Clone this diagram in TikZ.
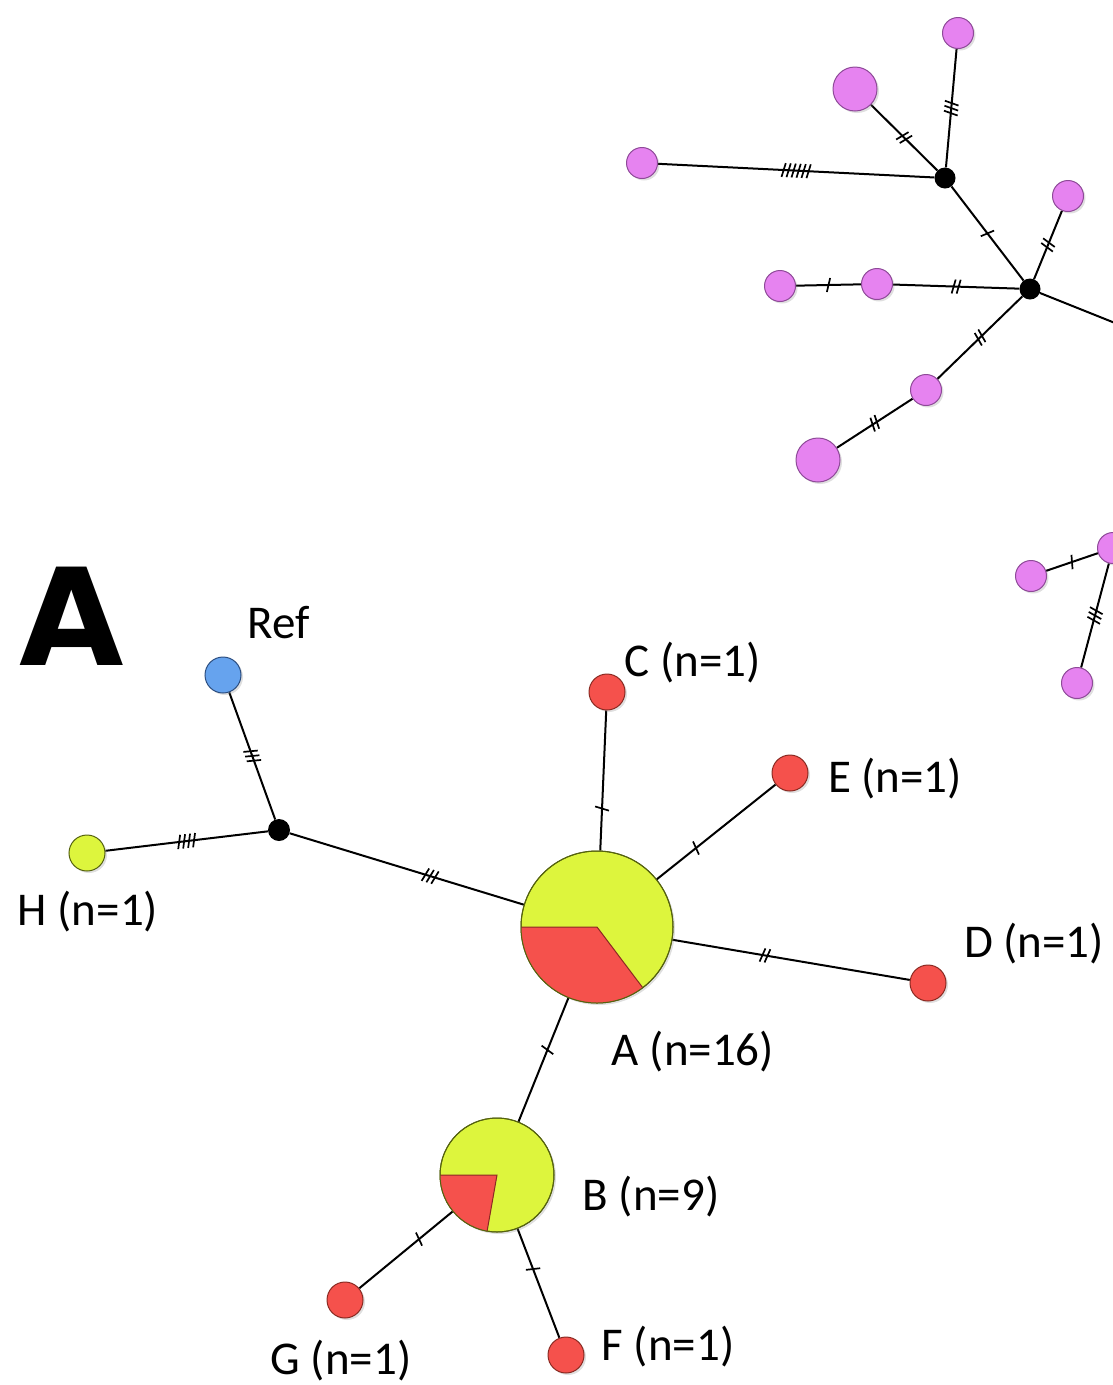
\documentclass[tikz,border=0pt]{standalone}
\usepackage{fontspec}
\setmainfont{Carlito}
\newfontfamily\bigfont{DejaVu Sans}
\usetikzlibrary{decorations.markings,shadows,calc}
\definecolor{pinkv}{HTML}{E683F0}
\definecolor{pinkb}{HTML}{8E4A98}
\definecolor{redn}{HTML}{F5514C}
\definecolor{redb}{HTML}{8A2A22}
\definecolor{ygrn}{HTML}{DDF53D}
\definecolor{ygb}{HTML}{55620F}
\definecolor{bluen}{HTML}{66A3EE}
\definecolor{blueb}{HTML}{2C4E80}
\pgfdeclarelayer{bg}
\pgfsetlayers{bg,main}
\tikzset{
 hap/.style={circle, inner sep=0pt, line width=1pt, drop shadow={shadow xshift=2pt, shadow yshift=-2pt, opacity=0.25}},
 pk/.style={hap, fill=pinkv, draw=pinkb, minimum size=31pt},
 pkbig/.style={hap, fill=pinkv, draw=pinkb, minimum size=44pt},
 rd/.style={hap, fill=redn, draw=redb, minimum size=36pt},
 jn/.style={circle, inner sep=0pt, fill=black, minimum size=21pt},
 edge/.style={line width=2pt, black},
 lbl/.style={font=\fontsize{47}{56}\selectfont, inner sep=0pt},
 ticks/.style 2 args={postaction={decorate, decoration={markings, mark=at position #2 with {\foreach \k in {1,...,#1}{\draw[line width=1.7pt] ({(\k-(#1+1)/2)*5pt-1.8pt},-7pt) -- ({(\k-(#1+1)/2)*5pt+1.8pt},7pt);}}}}},
}
\begin{document}
\begin{tikzpicture}[x=1pt,y=-1pt]
\useasboundingbox (0,0) rectangle (1112,1385);
% ---------- top cluster ----------
\node[pk] (P1) at (958,33) {};
\node[pkbig] (P2) at (855,89) {};
\node[pk] (P3) at (642,163) {};
\node[jn] (J1) at (945,178) {};
\node[pk] (P4) at (1068,196) {};
\node[jn] (J2) at (1030,289) {};
\node[pk] (P5) at (780,286) {};
\node[pk] (P6) at (877,284) {};
\node[pk] (P7) at (926,390) {};
\node[pkbig] (P8) at (818,460) {};
\coordinate (Xout) at (1125,327);
% ---------- middle right ----------
\node[pk] (P9) at (1031,576) {};
\node[pk] (P10) at (1113,548) {};
\node[pk] (P11) at (1077,683) {};
% ---------- main network ----------
\node[hap, fill=bluen, draw=blueb, minimum size=36pt] (Ref) at (223,675) {};
\node[jn, minimum size=22pt] (J3) at (279,830) {};
\node[hap, fill=ygrn, draw=ygb, minimum size=36pt] (H) at (87,853) {};
\node[hap, fill=ygrn, draw=ygb, minimum size=152pt] (A) at (597,927) {};
\fill[redn] (A.center) -- ++(180:76pt) arc[start angle=180, end angle=307, radius=76pt] -- cycle;
\draw[redb, line width=1pt] ($(A.center)+(180:76pt)$) -- (A.center) -- ($(A.center)+(307:76pt)$);
\draw[ygb, line width=1pt] (A.center) circle[radius=76pt];
\node[hap, fill=ygrn, draw=ygb, minimum size=114pt] (B) at (497,1175) {};
\fill[redn] (B.center) -- ++(180:57pt) arc[start angle=180, end angle=260, radius=57pt] -- cycle;
\draw[redb, line width=1pt] ($(B.center)+(180:57pt)$) -- (B.center) -- ($(B.center)+(260:57pt)$);
\draw[ygb, line width=1pt] (B.center) circle[radius=57pt];
\node[rd] (C) at (607,692) {};
\node[rd] (E) at (790,773) {};
\node[rd] (D) at (928,983) {};
\node[rd] (G) at (345,1300) {};
\node[rd] (F) at (566,1355) {};
% ---------- edges ----------
\begin{pgfonlayer}{bg}
\draw[edge, ticks={6}{0.5}] (P3) -- (J1);
\draw[edge, ticks={2}{0.5}] (P2) -- (J1);
\draw[edge, ticks={3}{0.5}] (P1) -- (J1);
\draw[edge, ticks={1}{0.5}] (J1) -- (J2);
\draw[edge, ticks={2}{0.5}] (J2) -- (P4);
\draw[edge, ticks={2}{0.5}] (J2) -- (P6);
\draw[edge, ticks={1}{0.5}] (P6) -- (P5);
\draw[edge, ticks={2}{0.5}] (J2) -- (P7);
\draw[edge, ticks={2}{0.5}] (P7) -- (P8);
\draw[edge] (J2) -- (Xout);
\draw[edge, ticks={1}{0.5}] (P9) -- (P10);
\draw[edge, ticks={3}{0.5}] (P10) -- (P11);
\draw[edge, ticks={3}{0.5}] (Ref) -- (J3);
\draw[edge, ticks={4}{0.5}] (H) -- (J3);
\draw[edge, ticks={3}{0.6}] (J3) -- (A);
\draw[edge, ticks={1}{0.7}] (C) -- (A);
\draw[edge, ticks={1}{0.67}] (E) -- (A);
\draw[edge, ticks={2}{0.39}] (A) -- (D);
\draw[edge, ticks={1}{0.42}] (A) -- (B);
\draw[edge, ticks={1}{0.36}] (B) -- (G);
\draw[edge, ticks={1}{0.37}] (B) -- (F);
\end{pgfonlayer}
% ---------- labels ----------
\node[font=\bigfont\bfseries\fontsize{135}{140}\selectfont, inner sep=0pt] (bigA) at (72,616) {A};
\node[lbl] (lRef) at (279,623) {Ref};
\node[lbl] (lC) at (693,663) {C (n=1)};
\node[lbl] (lE) at (895,779) {E (n=1)};
\node[lbl] (lD) at (1034,944) {D (n=1)};
\node[lbl] (lH) at (88,912) {H (n=1)};
\node[lbl] (lA) at (693,1052) {A (n=16)};
\node[lbl] (lB) at (651,1197) {B (n=9)};
\node[lbl] (lG) at (341,1361) {G (n=1)};
\node[lbl] (lF) at (668,1347) {F (n=1)};
\end{tikzpicture}
\end{document}
